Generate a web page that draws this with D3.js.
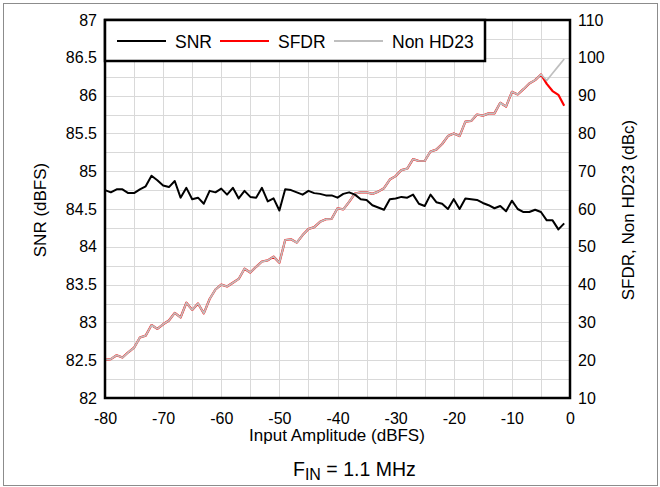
<!DOCTYPE html>
<html>
<head>
<meta charset="utf-8">
<script src="https://cdn.jsdelivr.net/npm/d3@7"></script>
<style>
  html, body { margin: 0; padding: 0; background: #fff; }
  svg { display: block; font-family: "Liberation Sans", Arial, sans-serif; }
</style>
</head>
<body>
<svg id="chart" width="660" height="487"></svg>
<script>
// ---------------- data ----------------
const amplitude = [-80,-79,-78,-77,-76,-75,-74,-73,-72,-71,-70,-69,-68,-67,-66,-65,-64,-63,-62,-61,
  -60,-59,-58,-57,-56,-55,-54,-53,-52,-51,-50,-49,-48,-47,-46,-45,-44,-43,-42,-41,
  -40,-39,-38,-37,-36,-35,-34,-33,-32,-31,-30,-29,-28,-27,-26,-25,-24,-23,-22,-21,
  -20,-19,-18,-17,-16,-15,-14,-13,-12,-11,-10,-9,-8,-7,-6,-5,-4,-3,-2,-1];

const snr = [84.75,84.72,84.76,84.76,84.71,84.71,84.76,84.80,84.94,84.88,
  84.81,84.79,84.87,84.65,84.78,84.63,84.65,84.57,84.74,84.72,
  84.77,84.69,84.78,84.64,84.74,84.66,84.65,84.78,84.60,84.64,
  84.48,84.76,84.75,84.72,84.69,84.74,84.71,84.70,84.68,84.68,
  84.65,84.70,84.72,84.69,84.63,84.62,84.55,84.52,84.49,84.63,
  84.64,84.66,84.65,84.69,84.57,84.54,84.69,84.59,84.57,84.50,
  84.63,84.50,84.64,84.63,84.62,84.58,84.55,84.51,84.54,84.47,
  84.61,84.50,84.46,84.46,84.49,84.46,84.35,84.35,84.23,84.31];

const nonHD23 = [20.1,20.3,21.3,20.7,22.1,23.3,26.0,26.5,29.3,28.3,
  29.5,30.5,32.5,31.3,35.2,33.3,35.0,32.4,36.2,38.7,
  40.0,39.5,40.5,41.5,44.2,43.2,44.7,46.1,46.4,47.4,
  45.8,51.8,52.0,51.1,53.1,54.7,55.2,56.6,57.3,57.4,
  60.2,59.9,61.9,64.1,64.4,64.4,64.0,64.6,65.5,67.8,
  68.7,70.3,70.7,73.2,72.7,72.7,75.2,75.7,77.2,79.3,
  80.0,79.3,83.1,83.3,85.0,84.7,85.3,85.3,88.1,87.1,
  91.0,90.3,91.7,93.2,94.1,95.6,94.0,95.9,97.8,99.7];

const sfdr = [20.1,20.3,21.3,20.7,22.1,23.3,26.0,26.5,29.3,28.3,
  29.5,30.5,32.5,31.3,35.2,33.3,35.0,32.4,36.2,38.7,
  40.0,39.5,40.5,41.5,44.2,43.2,44.7,46.1,46.4,47.4,
  45.8,51.8,52.0,51.1,53.1,54.7,55.2,56.6,57.3,57.4,
  60.2,59.9,61.9,64.1,64.4,64.4,64.0,64.6,65.5,67.8,
  68.7,70.3,70.7,73.2,72.7,72.7,75.2,75.7,77.2,79.3,
  80.0,79.3,83.1,83.3,85.0,84.7,85.3,85.3,88.1,87.1,
  91.0,90.3,91.7,93.2,94.1,95.6,93.1,91.2,90.2,87.3];

const xTicks = [-80,-70,-60,-50,-40,-30,-20,-10,0];
const yLeftTicks = [82,82.5,83,83.5,84,84.5,85,85.5,86,86.5,87];
const yRightTicks = [10,20,30,40,50,60,70,80,90,100,110];
const seriesNames = ["SNR","SFDR","Non HD23"];
const seriesColors = ["#000000","#ff0000","#bfbfbf"];

// ---------------- layout ----------------
const svg = d3.select("#chart");
const L = 105, R = 570, T = 20, B = 398;
const x = d3.scaleLinear().domain([-80,0]).range([L,R]);
const yL = d3.scaleLinear().domain([82,87]).range([B,T]);
const yR = d3.scaleLinear().domain([10,110]).range([B,T]);

// outer frame
svg.append("rect").attr("x",3.5).attr("y",3.5).attr("width",654).attr("height",482)
  .attr("fill","#fff").attr("stroke","#8c8c8c").attr("stroke-width",1);

// grid
const grid = svg.append("g");
grid.selectAll("line.v").data(d3.range(-75,0,5)).join("line")
  .attr("x1",d=>Math.round(x(d))+0.5).attr("x2",d=>Math.round(x(d))+0.5)
  .attr("y1",T).attr("y2",B).attr("stroke","#d9d9d9").attr("stroke-width",1);
grid.selectAll("line.h").data(d3.range(82.25,87,0.25)).join("line")
  .attr("y1",d=>Math.round(yL(d))+0.5).attr("y2",d=>Math.round(yL(d))+0.5)
  .attr("x1",L).attr("x2",R).attr("stroke","#d9d9d9").attr("stroke-width",1);

// axes (labels only, using d3 axes)
const axFont = 16;
const gx = svg.append("g").attr("transform",`translate(0,${B})`)
  .call(d3.axisBottom(x).tickValues(xTicks).tickSize(0).tickPadding(15).tickFormat(d=>String(d)));
const gyl = svg.append("g").attr("transform",`translate(${L},0)`)
  .call(d3.axisLeft(yL).tickValues(yLeftTicks).tickSize(0).tickPadding(8).tickFormat(d=>String(d)));
const gyr = svg.append("g").attr("transform",`translate(${R},0)`)
  .call(d3.axisRight(yR).tickValues(yRightTicks).tickSize(0).tickPadding(8).tickFormat(d=>String(d)));
[gx,gyl,gyr].forEach(g=>{
  g.select(".domain").remove();
  g.selectAll("text").attr("font-size",axFont).attr("fill","#000")
    .attr("font-family",'"Liberation Sans", Arial, sans-serif');
});

// lines
const line = (yScale, vals) => d3.line().x((d,i)=>x(amplitude[i])).y((d,i)=>yScale(vals[i]))(vals);
svg.append("path").attr("d",line(yR,sfdr)).attr("fill","none")
  .attr("stroke",seriesColors[1]).attr("stroke-width",2.2).attr("stroke-linejoin","round");
svg.append("path").attr("d",line(yR,nonHD23)).attr("fill","none")
  .attr("stroke",seriesColors[2]).attr("stroke-width",1.7).attr("stroke-linejoin","round");
svg.append("path").attr("d",line(yL,snr)).attr("fill","none")
  .attr("stroke",seriesColors[0]).attr("stroke-width",2).attr("stroke-linejoin","round");

// plot frame
svg.append("rect").attr("x",L).attr("y",T).attr("width",R-L).attr("height",B-T)
  .attr("fill","none").attr("stroke","#000").attr("stroke-width",2.5);

// legend
const lg = svg.append("g");
lg.append("rect").attr("x",L).attr("y",T).attr("width",380).attr("height",41)
  .attr("fill","#fff").attr("stroke","#000").attr("stroke-width",2.5);
const legX = [117,220,334];
seriesNames.forEach((n,i)=>{
  lg.append("line").attr("x1",legX[i]).attr("x2",legX[i]+49).attr("y1",41).attr("y2",41)
    .attr("stroke",seriesColors[i]).attr("stroke-width",2);
  lg.append("text").attr("x",legX[i]+58).attr("y",47.5).attr("font-size",17.5).text(n);
});

// axis titles
svg.append("text").attr("x",337).attr("y",441).attr("text-anchor","middle")
  .attr("font-size",17).text("Input Amplitude (dBFS)");
svg.append("text").attr("transform","translate(46,210) rotate(-90)").attr("text-anchor","middle")
  .attr("font-size",17).text("SNR (dBFS)");
svg.append("text").attr("transform","translate(634,210) rotate(-90)").attr("text-anchor","middle")
  .attr("font-size",17).text("SFDR, Non HD23 (dBc)");

// subtitle
const st = svg.append("text").attr("x",293).attr("y",476).attr("text-anchor","start").attr("font-size",19.5);
st.append("tspan").text("F");
st.append("tspan").attr("font-size",16).attr("dy",4).text("IN");
st.append("tspan").attr("dy",-4).text(" = 1.1 MHz");
</script>
</body>
</html>
